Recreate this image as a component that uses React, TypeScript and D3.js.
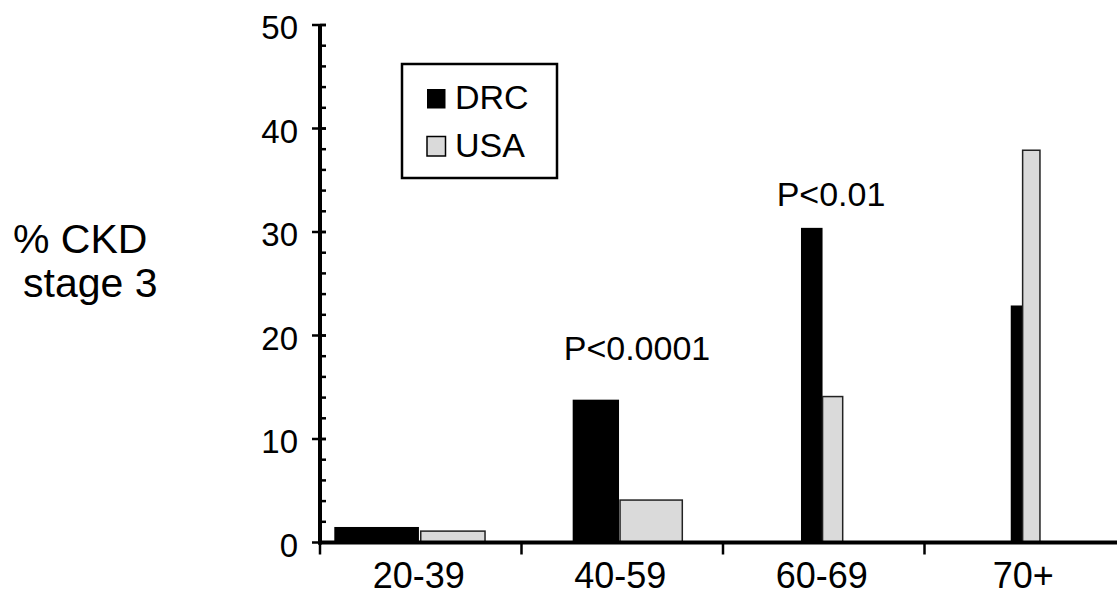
import React from "react";
import * as d3 from "d3";

const categories = ["20-39", "40-59", "60-69", "70+"];
const seriesNames = ["DRC", "USA"];
const drcValues = [1.5, 13.8, 30.4, 22.9];
const usaValues = [1.1, 4.1, 14.1, 37.9];
const yTicks = [0, 10, 20, 30, 40, 50];
const minorTicks = d3.range(0, 51, 2);
const pLabels = ["", "P<0.0001", "P<0.01", ""];

// layout (fractions of band width): [offset, width] per series per category
const barLayout = [
  [[0.071, 0.42], [0.5, 0.319]],
  [[0.254, 0.23], [0.489, 0.309]],
  [[0.387, 0.107], [0.494, 0.1]],
  [[0.428, 0.059], [0.487, 0.086]],
];
const pLabelPos = [[0, 0], [637, 360], [831, 206], [0, 0]];

const W = 1117;
const H = 597;
const FONT = "'Liberation Sans', Arial, Helvetica, sans-serif";
const colors = ["#000000", "#dadada"];

export default function App() {
  const x = d3.scaleBand<string>().domain(categories).range([320, 1126]).padding(0);
  const y = d3.scaleLinear().domain([0, 50]).range([542.5, 25]);
  const bw = x.bandwidth();
  const series = [drcValues, usaValues];

  return (
    <svg
      width={W}
      height={H}
      style={{ position: "absolute", left: 0, top: 0, background: "#fff" }}
      fontFamily={FONT}
    >
      <rect x={0} y={0} width={W} height={H} fill="#fff" />
      {categories.map((c, i) =>
        series.map((vals, s) => {
          const [off, wf] = barLayout[i][s];
          const x0 = (x(c) as number) + off * bw;
          const w = wf * bw;
          const yt = y(vals[i]);
          return (
            <rect
              key={c + s}
              x={x0}
              y={yt}
              width={w}
              height={y(0) - yt}
              fill={colors[s]}
              stroke={s === 0 ? "#000" : "#222"}
              strokeWidth={s === 0 ? 0 : 1.5}
            />
          );
        })
      )}
      <line x1={320} x2={320} y1={y(50)} y2={y(0) + 2} stroke="#000" strokeWidth={4} />
      {minorTicks.map((t) => (
        <line key={"m" + t} x1={320} x2={326} y1={y(t)} y2={y(t)} stroke="#000" strokeWidth={2.5} />
      ))}
      {yTicks.map((t) => (
        <g key={"t" + t}>
          <line x1={312} x2={326} y1={y(t)} y2={y(t)} stroke="#000" strokeWidth={2.5} />
          <text x={298} y={y(t) + 14} textAnchor="end" fontSize={33} fill="#000">
            {t}
          </text>
        </g>
      ))}
      <line x1={318} x2={W} y1={y(0)} y2={y(0)} stroke="#000" strokeWidth={4} />
      {categories.map((c) => (
        <line
          key={"xt" + c}
          x1={x(c) as number}
          x2={x(c) as number}
          y1={y(0)}
          y2={y(0) + 12}
          stroke="#000"
          strokeWidth={2.5}
        />
      ))}
      {categories.map((c) => (
        <text
          key={"xl" + c}
          x={(x(c) as number) + bw / 2 - 2}
          y={588}
          textAnchor="middle"
          fontSize={36}
          fill="#000"
        >
          {c}
        </text>
      ))}
      {pLabels.map((p, i) =>
        p ? (
          <text key={"p" + i} x={pLabelPos[i][0]} y={pLabelPos[i][1]} textAnchor="middle" fontSize={34} fill="#000">
            {p}
          </text>
        ) : null
      )}
      <text x={13} y={253} fontSize={41} fill="#000">% CKD</text>
      <text x={23} y={297} fontSize={41} fill="#000">stage 3</text>
      <rect x={402} y={64} width={155} height={114} fill="#fff" stroke="#000" strokeWidth={2.5} />
      {seriesNames.map((n, s) => (
        <g key={"lg" + n}>
          <rect
            x={427}
            y={89 + s * 47.5}
            width={18.5}
            height={19.5}
            fill={colors[s]}
            stroke="#000"
            strokeWidth={s === 0 ? 0 : 1.5}
          />
          <text x={455} y={109 + s * 48} fontSize={34} fill="#000">
            {n}
          </text>
        </g>
      ))}
    </svg>
  );
}
